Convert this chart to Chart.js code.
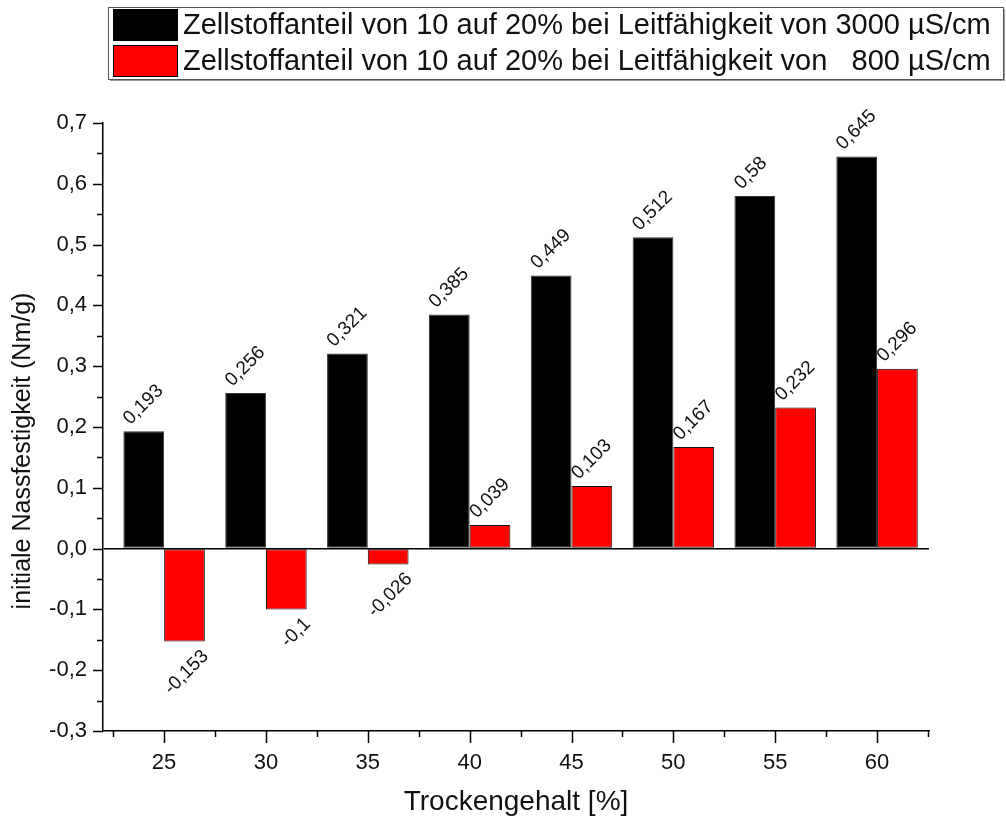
<!DOCTYPE html>
<html>
<head>
<meta charset="utf-8">
<script src="https://cdn.jsdelivr.net/npm/chart.js@4.4.0/dist/chart.umd.min.js"></script>
<style>
  html, body { margin: 0; padding: 0; background: #fff; }
</style>
</head>
<body>
<canvas id="chart" width="1006" height="823"></canvas>
<script>
// data
const trockengehalt = [25, 30, 35, 40, 45, 50, 55, 60];
const nass3000 = [0.193, 0.256, 0.321, 0.385, 0.449, 0.512, 0.58, 0.645];
const nass800 = [-0.153, -0.1, -0.026, 0.039, 0.103, 0.167, 0.232, 0.296];
const seriesLabels = [
  'Zellstoffanteil von 10 auf 20% bei Leitfähigkeit von 3000 µS/cm',
  'Zellstoffanteil von 10 auf 20% bei Leitfähigkeit von   800 µS/cm',
];
const yTitle = 'initiale Nassfestigkeit (Nm/g)';
const yTickValues = [-0.3, -0.2, -0.1, 0, 0.1, 0.2, 0.3, 0.4, 0.5, 0.6, 0.7];
const xTickValues = [25, 30, 35, 40, 45, 50, 55, 60];

const FONT = '"Liberation Sans", Arial, sans-serif';
const comma = (v) => String(v).replace('.', ',');

// major + minor tick marks, drawn outward like the Origin plot
const tickMarks = {
  id: 'tickMarks',
  afterDraw(chart) {
    const ctx = chart.ctx;
    const xs = chart.scales.x, ys = chart.scales.y;
    const area = chart.chartArea;
    ctx.save();
    ctx.strokeStyle = '#000';
    ctx.lineWidth = 1.5;
    const xMinor = xTickValues.map((v) => v - 2.5);
    xMinor.push(xTickValues[xTickValues.length - 1] + 2.5);
    const yMinor = [];
    for (let i = 0; i < yTickValues.length - 1; i++) yMinor.push((yTickValues[i] + yTickValues[i + 1]) / 2);
    ctx.beginPath();
    xTickValues.forEach((v) => {
      const px = Math.round(xs.getPixelForValue(v)) + 0.5;
      ctx.moveTo(px, area.bottom); ctx.lineTo(px, area.bottom + 12);
    });
    xMinor.forEach((v) => {
      if (v < xs.min || v > xs.max) return;
      const px = Math.round(xs.getPixelForValue(v)) + 0.5;
      ctx.moveTo(px, area.bottom); ctx.lineTo(px, area.bottom + 6);
    });
    yTickValues.forEach((v) => {
      const py = Math.round(ys.getPixelForValue(v)) + 0.5;
      ctx.moveTo(area.left, py); ctx.lineTo(area.left - 10, py);
    });
    yMinor.forEach((v) => {
      const py = Math.round(ys.getPixelForValue(v)) + 0.5;
      ctx.moveTo(area.left, py); ctx.lineTo(area.left - 6, py);
    });
    ctx.stroke();

    // y axis title, sits a bit below the middle in the original
    ctx.fillStyle = '#111';
    ctx.font = '25px ' + FONT;
    ctx.textAlign = 'center';
    ctx.textBaseline = 'middle';
    ctx.translate(23, 451);
    ctx.rotate(-Math.PI / 2);
    ctx.fillText(yTitle, 0, 0);
    ctx.restore();
  },
};

// rotated value labels over / under each bar
const barLabels = {
  id: 'barLabels',
  afterDatasetsDraw(chart) {
    const ctx = chart.ctx;
    ctx.save();
    ctx.font = '19px ' + FONT;
    ctx.fillStyle = '#111';
    chart.data.datasets.forEach((ds, di) => {
      const meta = chart.getDatasetMeta(di);
      meta.data.forEach((bar, i) => {
        const v = ds.data[i].y;
        const p = bar.getProps(['x', 'y', 'width'], true);
        ctx.save();
        if (v >= 0) {
          ctx.translate(p.x - p.width / 2 + 10, p.y - 3);
          ctx.rotate(-Math.PI / 4);
          ctx.textAlign = 'left';
          ctx.textBaseline = 'bottom';
        } else {
          ctx.translate(p.x + p.width / 2 - 6, p.y + 5);
          ctx.rotate(-Math.PI / 4);
          ctx.textAlign = 'right';
          ctx.textBaseline = 'top';
        }
        ctx.fillText(comma(v), 0, 0);
        ctx.restore();
      });
    });
    ctx.restore();
  },
};

// boxed legend in the top right corner
const boxLegend = {
  id: 'boxLegend',
  afterDraw(chart) {
    const ctx = chart.ctx;
    const left = 108, top = 7, right = 1003, bottom = 79;
    ctx.save();
    ctx.fillStyle = '#999';
    ctx.fillRect(left + 2, bottom, right - left, 2);
    ctx.fillRect(right, top + 2, 2, bottom - top);
    ctx.fillStyle = '#fff';
    ctx.fillRect(left, top, right - left, bottom - top);
    ctx.strokeStyle = '#555';
    ctx.lineWidth = 1;
    ctx.strokeRect(left + 0.5, top + 0.5, right - left, bottom - top);
    ctx.font = '29px ' + FONT;
    ctx.textBaseline = 'middle';
    ctx.textAlign = 'left';
    chart.data.datasets.forEach((ds, i) => {
      const y0 = top + 2 + i * 36;
      ctx.fillStyle = ds.backgroundColor;
      ctx.fillRect(left + 5, y0, 65, 32);
      ctx.strokeStyle = '#000';
      ctx.strokeRect(left + 5.5, y0 + 0.5, 64, 31);
      ctx.fillStyle = '#111';
      ctx.fillText(ds.label, left + 75, y0 + 17);
    });
    ctx.restore();
  },
};

new Chart(document.getElementById('chart'), {
  type: 'bar',
  data: {
    datasets: [
      {
        label: seriesLabels[0],
        data: trockengehalt.map((x, i) => ({ x: x, y: nass3000[i] })),
        backgroundColor: '#000000',
        borderColor: '#333333',
        borderWidth: 1,
        borderSkipped: false,
        categoryPercentage: 0.8,
        barPercentage: 1.0,
      },
      {
        label: seriesLabels[1],
        data: trockengehalt.map((x, i) => ({ x: x, y: nass800[i] })),
        backgroundColor: '#ff0000',
        borderColor: '#111111',
        borderWidth: 1,
        borderSkipped: false,
        categoryPercentage: 0.8,
        barPercentage: 1.0,
      },
    ],
  },
  options: {
    responsive: false,
    animation: false,
    devicePixelRatio: 1,
    layout: { padding: { top: 123, right: 77, left: 0, bottom: 0 } },
    plugins: {
      legend: { display: false },
      tooltip: { enabled: false },
    },
    scales: {
      x: {
        type: 'linear',
        min: 22,
        max: 62.55,
        offset: false,
        afterBuildTicks: (scale) => { scale.ticks = xTickValues.map((v) => ({ value: v })); },
        afterFit: (scale) => { scale.height = 92; },
        grid: { display: false },
        border: { display: true, color: '#000', width: 1.5 },
        ticks: {
          color: '#111',
          font: { family: FONT, size: 22 },
          padding: 11,
          maxRotation: 0,
          autoSkip: false,
          callback: (v) => String(v),
        },
        title: {
          display: true,
          text: 'Trockengehalt [%]',
          color: '#111',
          font: { family: FONT, size: 28 },
          padding: { top: 0, bottom: 4 },
        },
      },
      y: {
        min: -0.3,
        max: 0.7,
        afterBuildTicks: (scale) => { scale.ticks = yTickValues.map((v) => ({ value: v })); },
        afterFit: (scale) => { scale.width = 103; },
        grid: {
          display: true,
          drawTicks: false,
          drawOnChartArea: true,
          color: (c) => (c.tick && c.tick.value === 0 ? '#000' : 'rgba(0,0,0,0)'),
          lineWidth: 1.5,
        },
        border: { display: true, color: '#000', width: 1.5 },
        ticks: {
          color: '#111',
          font: { family: FONT, size: 22 },
          padding: 16,
          autoSkip: false,
          callback: (v) => v.toFixed(1).replace('.', ','),
        },
        title: { display: false },
      },
    },
  },
  plugins: [tickMarks, barLabels, boxLegend],
});
</script>
</body>
</html>
